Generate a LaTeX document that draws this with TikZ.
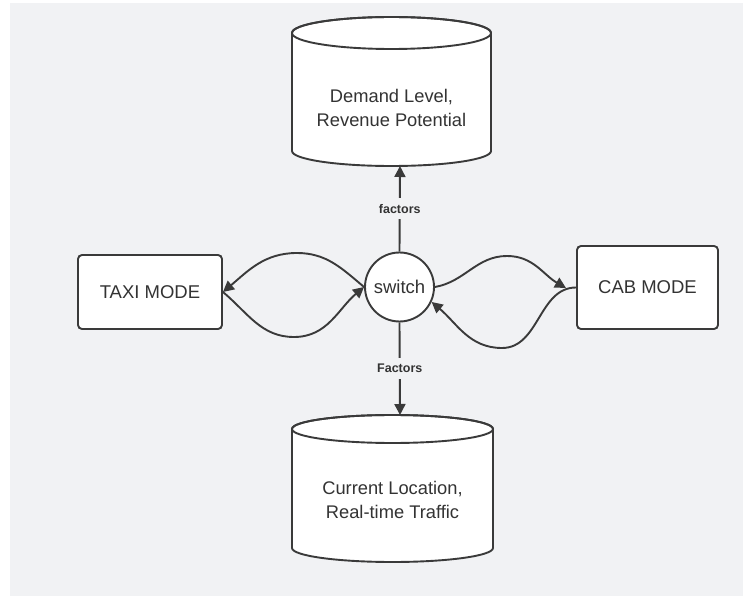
\documentclass[tikz,border=0pt]{standalone}
\usepackage{fontspec}
\setmainfont{Liberation Sans}
\usetikzlibrary{arrows.meta}
\definecolor{bg}{HTML}{F1F2F4}
\definecolor{ink}{HTML}{3A3A3A}
\definecolor{txt}{HTML}{333333}

\tikzset{
  base/.style={draw=ink, line width=1.9pt},
  modebox/.style={base, fill=white, rounded corners=4pt, inner sep=0pt,
    text=txt, font=\fontsize{18.5}{18.5}\selectfont},
  hub/.style={base, circle, fill=white, inner sep=0pt, minimum size=69pt,
    text=txt, font=\fontsize{18.5}{18.5}\selectfont},
  cyltext/.style={align=center, text=txt, font=\fontsize{18.3}{23.5}\selectfont},
  cylbody/.style={base, fill=white},
  arr/.style={draw=ink, line width=1.9pt, -{Triangle[length=11pt,width=11pt]}},
  lbl/.style={fill=bg, text=txt, inner xsep=2pt, inner ysep=6pt,
    font=\bfseries\fontsize{12.5}{12.5}\selectfont},
}

\begin{document}
\begin{tikzpicture}[x=1pt, y=1pt]
\useasboundingbox (0,0) rectangle (745,-596);
\fill[white] (0,0) rectangle (745,-596);
\fill[bg] (10,-3) rectangle (743,-596);

% upper data store
\filldraw[cylbody] (292,-33) -- (292,-151)
  arc[start angle=180, end angle=360, x radius=99.5, y radius=15]
  -- (491,-33)
  arc[start angle=0, end angle=180, x radius=99.5, y radius=16] -- cycle;
\draw[base] (391.5,-33) ellipse [x radius=99.5, y radius=16];
\node[cyltext] (demand) at (391.5,-108) {Demand Level,\\Revenue Potential};
\coordinate (demandin) at (400,-166);

% lower data store
\filldraw[cylbody] (292,-429) -- (292,-548)
  arc[start angle=180, end angle=360, x radius=100.5, y radius=14]
  -- (493,-429)
  arc[start angle=0, end angle=180, x radius=100.5, y radius=14] -- cycle;
\draw[base] (392.5,-429) ellipse [x radius=100.5, y radius=14];
\node[cyltext] (location) at (392.5,-500) {Current Location,\\Real-time Traffic};
\coordinate (locationin) at (400,-415);

% modes and switch
\node[modebox, minimum width=144pt, minimum height=74pt] (taxi) at (150,-292) {TAXI MODE};
\node[modebox, minimum width=141pt, minimum height=83pt] (cab) at (647.5,-287.5) {CAB MODE};
\node[hub] (sw) at (399.5,-287) {switch};

% curve turning points
\coordinate (lt) at (297,-253);
\coordinate (lb) at (294,-337);
\coordinate (rt) at (507,-256);
\coordinate (rb) at (502,-348);
\coordinate (cabin) at (566,-288);

% switch <-> taxi
\draw[arr] (sw.west) to[out=140,in=0] (lt) to[out=180,in=40] (taxi.east);
\draw[arr] (taxi.east) to[out=-40,in=180] (lb) to[out=0,in=-140] (sw.west);

% switch <-> cab
\draw[arr] (sw.east) to[out=10,in=180] (rt) to[out=0,in=150] (cabin);
\draw[arr] (cab.west) to[out=180,in=0] (rb) to[out=180,in=-40] (sw.-25);

% factor links
\draw[arr] (sw.north) -- node[lbl] {factors} (demandin);
\draw[arr] (sw.south) -- node[lbl] {Factors} (locationin);
\end{tikzpicture}
\end{document}
